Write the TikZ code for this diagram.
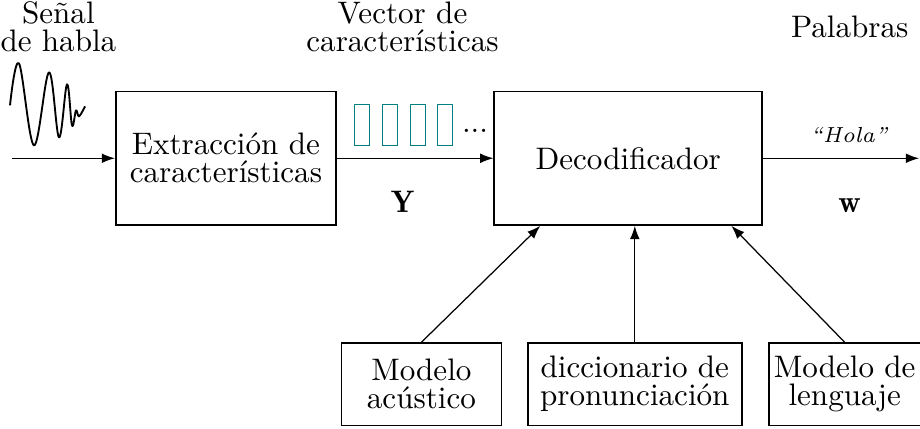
\documentclass[tikz,border=0pt]{standalone}
\usepackage{fontspec}
\usetikzlibrary{positioning, arrows.meta, calc}

\begin{document}
\begin{tikzpicture}[
  >={Latex[length=1.5mm, width=1.1mm]},
  every node/.style={font=\fontsize{10}{9}\selectfont},
  box/.style ={draw, line width=0.5pt, align=center, inner sep=1.5pt, minimum height=0.93cm},
  feat/.style={draw=teal, line width=0.35pt, minimum width=0.17cm, minimum height=0.46cm, inner sep=0pt},
  lbl/.style ={align=center, inner sep=0pt},
  arr/.style ={->, line width=0.4pt},
  wave/.style={line width=0.6pt, line join=round},
]
  \useasboundingbox (0,0) rectangle (10.40,4.84);
  % top labels
  \node[lbl] (senal) at (0.66,4.54) {Señal\\de habla};
  \node[lbl] (vec)   at (4.55,4.54) {Vector de\\características};
  \node[lbl] (pal)   at (9.605,4.54) {Palabras};
  % speech signal
  \begin{scope}[shift={(0,4.836)}, x=0.0113cm, y=-0.0113cm]
    \draw[wave] plot[smooth, tension=0.6] coordinates {(10,105) (19,63) (34,145) (49,72) (59,137) (67,84) (72,125) (76,110) (79,116) (85,106)};
  \end{scope}
  % main chain
  \coordinate (in) at (0.13,3.051);
  \node[box, minimum width=2.49cm, minimum height=1.51cm] (ext) at (2.554,3.051) {Extracción de\\características};
  \node[box, minimum width=3.03cm, minimum height=1.51cm, right=1.77cm of ext] (dec) {Decodificador};
  \coordinate (out) at (10.39,3.051);
  \draw[arr] (in) -- (ext);
  \draw[arr] (ext) -- (dec);
  \draw[arr] (dec) -- (out) node[pos=0.55, above=0.17cm, inner sep=0pt, font=\scriptsize\itshape] (hola) {``Hola''};
  % feature vectors
  \node[feat] (f1) at (4.096,3.43) {};
  \foreach \i/\j in {1/2,2/3,3/4} \node[feat, right=0.13cm of f\i] (f\j) {};
  \node[anchor=base, inner sep=0pt] (dots) at (5.37,3.34) {...};
  \node[anchor=base] (Y) at (4.55,2.441) {$\mathbf{Y}$};
  \node[anchor=base] (W) at (9.605,2.441) {$\mathbf{w}$};
  % knowledge sources
  \node[box, minimum width=2.42cm] (dic) at (7.176,0.497) {diccionario de\\pronunciación};
  \node[box, minimum width=1.81cm, left=0.28cm of dic]  (am) {Modelo\\acústico};
  \node[box, minimum width=1.71cm, right=0.29cm of dic] (lm) {Modelo de\\lenguaje};
  \coordinate (d1) at ($(dec.south west)+(0.53,0)$);
  \coordinate (d3) at ($(dec.south west)+(2.69,0)$);
  \draw[arr] (am.north) -- (d1);
  \draw[arr] (dic.north) -- (dic.north |- dec.south);
  \draw[arr] (lm.north) -- (d3);
\end{tikzpicture}
\end{document}
